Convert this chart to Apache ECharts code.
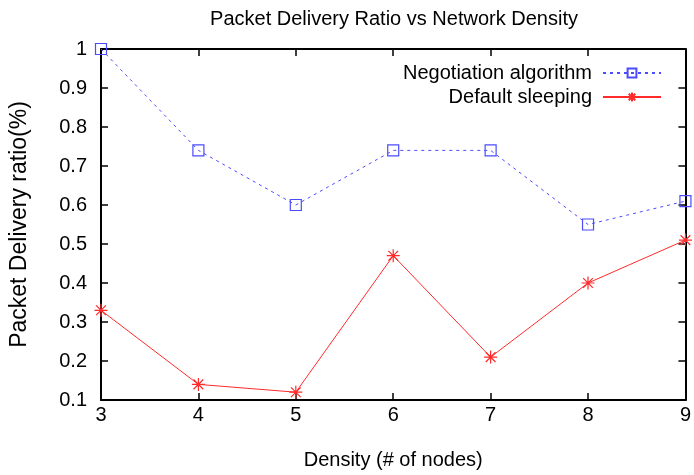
<!DOCTYPE html>
<html>
<head>
<meta charset="utf-8">
<script src="https://cdn.jsdelivr.net/npm/echarts@6/dist/echarts.min.js"></script>
<style>
  html, body { margin: 0; padding: 0; background: #fff; }
  #chart { width: 694px; height: 475px; }
</style>
</head>
<body>
<div id="chart"></div>
<script>
// density (# of nodes)
var densities = [3, 4, 5, 6, 7, 8, 9];
var negotiation = [1.0, 0.74, 0.60, 0.74, 0.74, 0.55, 0.61];
var defaultSleeping = [0.33, 0.14, 0.12, 0.47, 0.21, 0.40, 0.51];

var FONT = 'Liberation Sans';
var asterisk = 'path://M0,-1L0,1M-1,0L1,0M-0.75,-0.75L0.75,0.75M-0.75,0.75L0.75,-0.75';

function pairs(ys) {
  return densities.map(function (x, i) { return [x, ys[i]]; });
}

var chart = echarts.init(document.getElementById('chart'));

var option = {
  animation: false,
  title: {
    text: 'Packet Delivery Ratio vs Network Density',
    left: 389, top: 4, textAlign: 'center',
    textStyle: { fontFamily: FONT, fontSize: 20, fontWeight: 'normal', color: '#000' }
  },
  legend: {
    orient: 'vertical',
    right: 27, top: 58,
    align: 'right',
    itemWidth: 58, itemHeight: 11, itemGap: 4,
    textStyle: { fontFamily: FONT, fontSize: 20, color: '#000', padding: [0, 6, 0, 0] },
    data: ['Negotiation algorithm', 'Default sleeping']
  },
  grid: { left: 100, right: 8, top: 49, bottom: 75 },
  xAxis: [{
    type: 'value', min: 3, max: 9, interval: 1,
    name: 'Density (# of nodes)', nameLocation: 'middle', nameGap: 50,
    nameTextStyle: { fontFamily: FONT, fontSize: 20, color: '#000' },
    axisLine: { onZero: false, lineStyle: { color: '#000', width: 2 } },
    axisTick: { inside: true, length: 7, lineStyle: { color: '#000', width: 1.5 } },
    axisLabel: { margin: 5, fontFamily: FONT, fontSize: 20, color: '#000' },
    splitLine: { show: false }
  }, {
    type: 'value', min: 3, max: 9, interval: 1, position: 'top',
    axisLine: { lineStyle: { color: '#000', width: 2 } },
    axisTick: { inside: true, length: 7, lineStyle: { color: '#000', width: 1.5 } },
    axisLabel: { show: false },
    splitLine: { show: false }
  }],
  yAxis: [{
    type: 'value', min: 0.1, max: 1, interval: 0.1,
    name: 'Packet Delivery ratio(%)', nameLocation: 'middle', nameGap: 70,
    nameTextStyle: { fontFamily: FONT, fontSize: 23, color: '#000' },
    axisLine: { show: true, onZero: false, lineStyle: { color: '#000', width: 2 } },
    axisTick: { show: true, inside: true, length: 7, lineStyle: { color: '#000', width: 1.5 } },
    axisLabel: {
      margin: 14, fontFamily: FONT, fontSize: 20, color: '#000',
      formatter: function (v) { return String(Math.round(v * 10) / 10); }
    },
    splitLine: { show: false }
  }, {
    type: 'value', min: 0.1, max: 1, interval: 0.1, position: 'right',
    axisLine: { show: true, lineStyle: { color: '#000', width: 2 } },
    axisTick: { show: true, inside: true, length: 7, lineStyle: { color: '#000', width: 1.5 } },
    axisLabel: { show: false },
    splitLine: { show: false }
  }],
  series: [{
    name: 'Negotiation algorithm',
    type: 'line',
    data: pairs(negotiation),
    symbol: 'rect', symbolSize: 11,
    lineStyle: { color: '#4b4bff', width: 1, type: [3, 4] },
    itemStyle: { color: 'rgba(0,0,0,0)', borderColor: '#4b4bff', borderWidth: 1.2 },
    z: 3
  }, {
    name: 'Default sleeping',
    type: 'line',
    data: pairs(defaultSleeping),
    symbol: asterisk, symbolSize: 13,
    lineStyle: { color: '#ff2a2a', width: 1 },
    itemStyle: { color: '#ff2a2a', borderColor: '#ff2a2a', borderWidth: 1.2 },
    z: 3
  }]
};

chart.setOption(option);
</script>
</body>
</html>
